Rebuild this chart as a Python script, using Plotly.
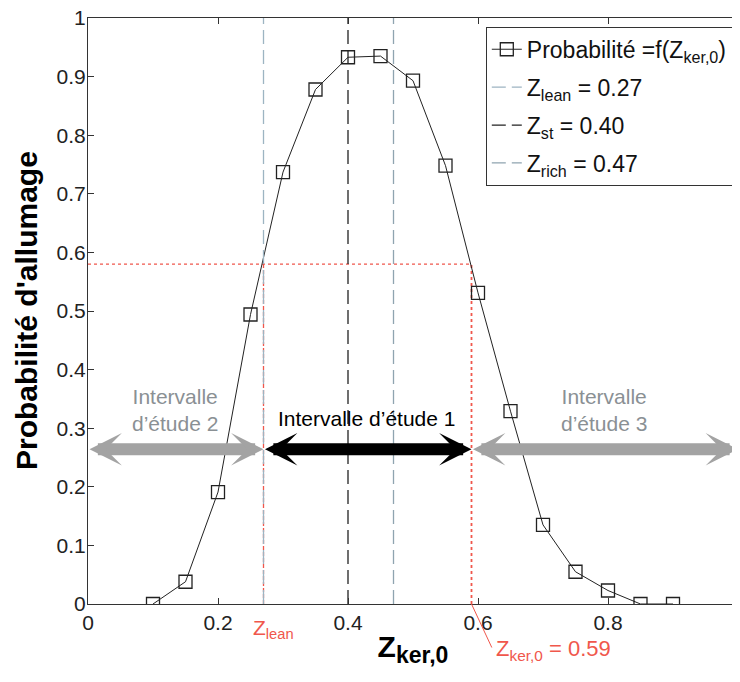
import plotly.graph_objects as go

# ---- data ----
z_ker = [0.10, 0.15, 0.20, 0.25, 0.30, 0.35, 0.40, 0.45, 0.50, 0.55, 0.60, 0.65, 0.70, 0.75, 0.80, 0.85, 0.90]
prob = [0.0, 0.038, 0.191, 0.494, 0.737, 0.878, 0.933, 0.935, 0.893, 0.748, 0.531, 0.329, 0.135, 0.055, 0.023, 0.0, 0.0]

z_lean = 0.27
z_st = 0.40
z_rich = 0.47
z_ker0 = 0.59
p_level = 0.58
arrow_y = 0.264

x_ticks = [0, 0.2, 0.4, 0.6, 0.8, 1]
x_ticklabels = ["0", "0.2", "0.4", "0.6", "0.8", "1"]
y_ticks = [0, 0.1, 0.2, 0.3, 0.4, 0.5, 0.6, 0.7, 0.8, 0.9, 1]
y_ticklabels = ["0", "0.1", "0.2", "0.3", "0.4", "0.5", "0.6", "0.7", "0.8", "0.9", "1"]

FONT = "Liberation Sans, Arial, sans-serif"
RED = "#f0574c"
GRAY_TXT = "#8a9094"
GRAY_ARR = "#a3a3a3"

fig = go.Figure()

# red guide lines (no legend)
fig.add_trace(go.Scatter(x=[0, z_ker0], y=[p_level, p_level], mode="lines",
                         line=dict(color=RED, width=1.3, dash="dot"), showlegend=False, hoverinfo="skip"))
fig.add_trace(go.Scatter(x=[z_lean, z_lean], y=[0, p_level], mode="lines",
                         line=dict(color=RED, width=1.3, dash="4px,2px"), showlegend=False, hoverinfo="skip"))
fig.add_trace(go.Scatter(x=[z_ker0, z_ker0], y=[0, p_level], mode="lines",
                         line=dict(color=RED, width=1.8, dash="dot"), showlegend=False, hoverinfo="skip"))

# main curve
fig.add_trace(go.Scatter(x=z_ker, y=prob, mode="lines+markers",
                         name="Probabilité =f(Z<sub>ker,0</sub>)", legendgroup="a",
                         line=dict(color="#222222", width=1),
                         marker=dict(symbol="square-open", size=13, color="#222222", line=dict(width=1.3))))

# vertical reference lines
fig.add_trace(go.Scatter(x=[z_lean, z_lean], y=[0, 1], mode="lines",
                         name="Z<sub>lean</sub> = 0.27", legendgroup="b",
                         line=dict(color="#9db4c2", width=1.3, dash="14px,6px")))
fig.add_trace(go.Scatter(x=[z_st, z_st], y=[0, 1], mode="lines",
                         name="Z<sub>st</sub> = 0.40", legendgroup="c",
                         line=dict(color="#222222", width=1.3, dash="14px,6px")))
fig.add_trace(go.Scatter(x=[z_rich, z_rich], y=[0, 1], mode="lines",
                         name="Z<sub>rich</sub> = 0.47", legendgroup="d",
                         line=dict(color="#8fa4b0", width=1.3, dash="14px,6px")))

# double-headed arrows
def darrow(x0, x1, color):
    fig.add_annotation(x=x1, y=arrow_y, ax=x0, ay=arrow_y, xref="x", yref="y", axref="x", ayref="y",
                       text="", showarrow=True, arrowhead=3, startarrowhead=3, arrowside="end+start",
                       arrowsize=0.45, startarrowsize=0.45, arrowwidth=12, arrowcolor=color,
                       standoff=0, startstandoff=0)

darrow(0.0, z_lean, GRAY_ARR)
darrow(z_lean, z_ker0, "#000000")
darrow(z_ker0, 1.0, GRAY_ARR)

TXT = 21
fig.add_annotation(x=0.134, y=0.331, xref="x", yref="y", text="Intervalle<br>d’étude 2", showarrow=False,
                   font=dict(family=FONT, size=TXT, color=GRAY_TXT), align="center")
fig.add_annotation(x=0.428, y=0.317, xref="x", yref="y", text="Intervalle d’étude 1", showarrow=False,
                   font=dict(family=FONT, size=TXT, color="#000000"), align="center")
fig.add_annotation(x=0.794, y=0.331, xref="x", yref="y", text="Intervalle<br>d’étude 3", showarrow=False,
                   font=dict(family=FONT, size=TXT, color=GRAY_TXT), align="center")

# red labels below axis
fig.add_annotation(x=z_lean, y=0, xref="x", yref="y", text="Z<sub>lean</sub>", showarrow=False,
                   xanchor="left", yanchor="top", xshift=-13, yshift=-10,
                   font=dict(family=FONT, size=21, color=RED))
fig.add_annotation(x=z_ker0, y=0, xref="x", yref="y", ax=21, ay=45, text="", showarrow=True,
                   arrowhead=0, arrowwidth=1, arrowcolor=RED, standoff=0)
fig.add_annotation(x=z_ker0, y=0, xref="x", yref="y", text="Z<sub>ker,0</sub> = 0.59", showarrow=False,
                   xanchor="left", yanchor="middle", xshift=22, yshift=-46,
                   font=dict(family=FONT, size=22, color=RED))

# y-axis title placed as a rotated annotation
fig.add_annotation(x=0, y=0.5, xref="paper", yref="paper", text="<b>Probabilité d'allumage</b>",
                   textangle=-90, showarrow=False, xanchor="center", yanchor="middle", xshift=-62,
                   font=dict(family=FONT, size=30, color="#000"))

axis_common = dict(showline=True, linecolor="#333333", linewidth=1, mirror="ticks", ticks="inside",
                   ticklen=6, tickcolor="#333333", showgrid=False, zeroline=False, automargin=False,
                   ticklabeloverflow="allow",
                   tickfont=dict(family=FONT, size=21, color="#222222"))

fig.update_xaxes(range=[0, 1], tickvals=x_ticks, ticktext=x_ticklabels,
                 title=dict(text="<b>Z<sub><span style='font-size:23px'>ker,0</span></sub></b>",
                            font=dict(family=FONT, size=30, color="#000"), standoff=2),
                 **axis_common)
fig.update_yaxes(range=[0, 1], tickvals=y_ticks, ticktext=y_ticklabels, ticklabelstandoff=-3,
                 **axis_common)

# page body has an 8px margin: the figure is placed at (8, 8) in the window
fig.update_layout(
    width=732, height=674,
    margin=dict(l=80, r=2, t=10, b=78),
    paper_bgcolor="white", plot_bgcolor="white",
    font=dict(family=FONT, size=18, color="#000"),
    legend=dict(x=0.992, y=0.985, xanchor="right", yanchor="top",
                bgcolor="white", bordercolor="#333333", borderwidth=1,
                font=dict(family=FONT, size=23, color="#111"), tracegroupgap=5, itemwidth=30),
)

fig.write_html("out.html")
